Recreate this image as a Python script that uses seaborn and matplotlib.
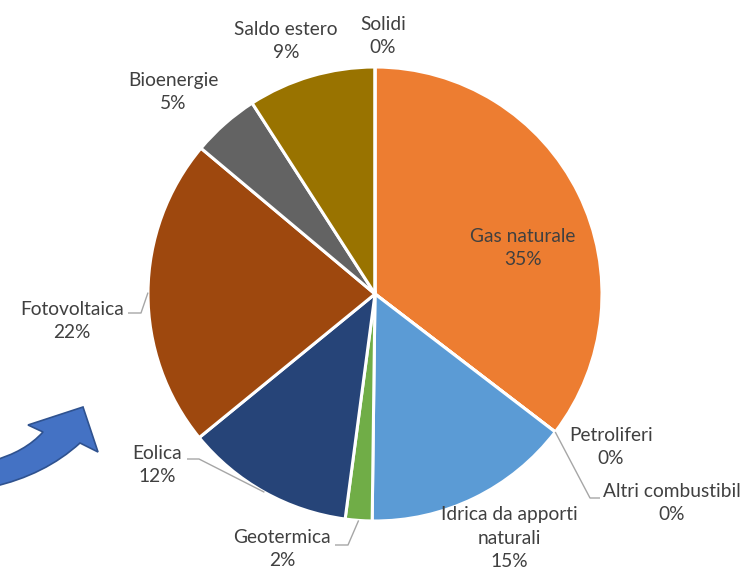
import matplotlib
matplotlib.use("Agg")
import matplotlib.pyplot as plt
from matplotlib.path import Path
from matplotlib.patches import PathPatch
import numpy as np
import seaborn as sns

# Energy mix shares (%), clockwise from 12 o'clock
sources = ["Gas naturale", "Petroliferi", "Altri combustibil", "Idrica da apporti\nnaturali",
           "Geotermica", "Eolica", "Fotovoltaica", "Bioenergie", "Saldo estero", "Solidi"]
shares = [35.4, 0.0, 0.0, 14.8, 1.9, 12.0, 22.0, 4.8, 9.1, 0.0]
colors = ["#ED7D31", "#A5A5A5", "#FFC000", "#5B9BD5", "#70AD47",
          "#264478", "#9E480E", "#636363", "#997300", "#4472C4"]

sns.set_theme(style="white")
plt.rcParams["font.family"] = ["Lato", "DejaVu Sans"]

W, H = 747, 571
fig = plt.figure(figsize=(W / 100, H / 100), dpi=100)

cx, cy, R = 375, 294, 227
ax = fig.add_axes([(cx - R) / W, (H - cy - R) / H, 2 * R / W, 2 * R / H])

wedges, _ = ax.pie(shares, colors=colors, startangle=90, counterclock=False,
                   radius=1.0, wedgeprops=dict(edgecolor="white", linewidth=2.2))
ax.set_xlim(-1, 1)
ax.set_ylim(-1, 1)
ax.axis("off")


def to_data(px, py):
    return (px - cx) / R, (cy - py) / R


# label anchor (pixel), plus optional leader elbow points (pixel)
label_pos = {
    "Gas naturale": (523, 248),
    "Petroliferi": (611, 447),
    "Altri combustibil": (672, 503),
    "Idrica da apporti\nnaturali": (509, 538),
    "Geotermica": (282, 549),
    "Eolica": (157, 465),
    "Fotovoltaica": (72, 321),
    "Bioenergie": (173, 92),
    "Saldo estero": (286, 41),
    "Solidi": (383, 36),
}
leaders = {
    "Altri combustibil": [(590, 498), (600, 498)],
    "Geotermica": [(348, 545), (335, 545)],
    "Eolica": [(199, 459), (187, 459)],
    "Fotovoltaica": [(141, 313), (128, 313)],
}

txt_color = "#404040"
for name, val, w in zip(sources, shares, wedges):
    x, y = to_data(*label_pos[name])
    ax.text(x, y, f"{name}\n{round(val)}%", ha="center", va="center",
            fontsize=13.8, color=txt_color, linespacing=1.45, clip_on=False)
    if name in leaders:
        mid = np.deg2rad((w.theta1 + w.theta2) / 2)
        pts = [(np.cos(mid), np.sin(mid))] + [to_data(*p) for p in leaders[name]]
        xs, ys = zip(*pts)
        ax.plot(xs, ys, color="#A6A6A6", lw=1.0, solid_capstyle="butt", clip_on=False)

# curved block arrow at lower left
def fp(px, py):
    return (px / W, 1 - py / H)

verts = [fp(-8, 461), fp(25, 452), fp(43, 432), fp(28, 425), fp(83, 407),
         fp(98, 452), fp(80, 443), fp(45, 475), fp(-8, 487), fp(-8, 461)]
codes = [Path.MOVETO, Path.CURVE3, Path.CURVE3, Path.LINETO, Path.LINETO,
         Path.LINETO, Path.LINETO, Path.CURVE3, Path.CURVE3, Path.CLOSEPOLY]
arrow = PathPatch(Path(verts, codes), facecolor="#4472C4", edgecolor="#2F528F",
                  lw=1.2, transform=fig.transFigure, clip_on=False)
fig.patches.append(arrow)

fig.savefig("out.png", dpi=100, facecolor="white")
